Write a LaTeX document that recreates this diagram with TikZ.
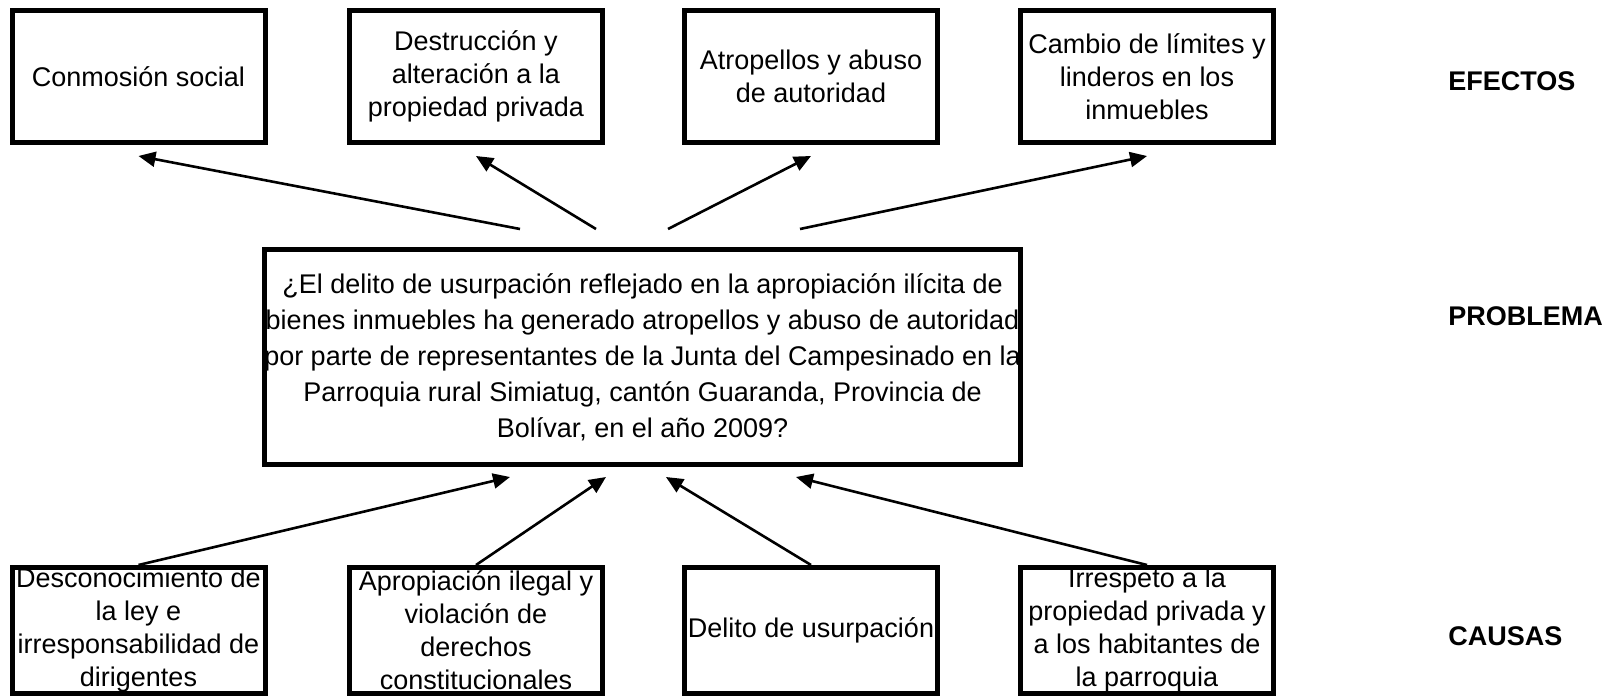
\documentclass[tikz,border=0pt]{standalone}
\usepackage{fontspec}
\setmainfont{Liberation Sans}
\usetikzlibrary{arrows.meta}
\usetikzlibrary{calc}
\usetikzlibrary{positioning}

\tikzset{
  caja/.style={draw, line width=2.5pt, inner sep=0pt, minimum width=126.5pt,
    align=center, font=\fontsize{13.5}{16.5}\selectfont},
  efecto/.style={caja, minimum height=66pt},
  causa/.style={caja, minimum height=63pt},
  problema/.style={caja, minimum width=377pt, minimum height=107.5pt,
    font=\fontsize{13.5}{18}\selectfont},
  etiqueta/.style={anchor=west, inner sep=0pt, font=\fontsize{13.5}{16}\selectfont\bfseries},
  flecha/.style={line width=1.3pt, -{Triangle[length=8.5pt,width=7.5pt]}}
}

\begin{document}
\begin{tikzpicture}[x=0.5pt, y=-0.5pt]
\useasboundingbox (0,0) rectangle (1610,696);

%Efectos
\node[efecto] (e1) at (138.5, 76.5) {Conmosión social};
\node[efecto] (e2) at (476, 76.5) {Destrucción y\\alteración a la\\propiedad privada};
\node[efecto] (e3) at (811, 76.5) {Atropellos y abuso\\de autoridad};
\node[efecto] (e4) at (1147, 76.5) {Cambio de límites y\\linderos en los\\inmuebles};

%Problema
\node[problema] (prob) at (642.5, 357) {¿El delito de usurpación reflejado en la apropiación ilícita de\\
  bienes inmuebles ha generado atropellos y abuso de autoridad\\
  por parte de representantes de la Junta del Campesinado en la\\
  Parroquia rural Simiatug, cantón Guaranda, Provincia de\\
  Bolívar, en el año 2009?};

%Causas
\node[causa] (c1) at (138.5, 630.5) {Desconocimiento de\\la ley e\\irresponsabilidad de\\dirigentes};
\node[causa] (c2) at (476, 630.5) {Apropiación ilegal y\\violación de\\derechos\\constitucionales};
\node[causa] (c3) at (811, 630.5) {Delito de usurpación};
\node[causa] (c4) at (1147, 630.5) {Irrespeto a la\\propiedad privada y\\a los habitantes de\\la parroquia};

%Etiquetas
\node[etiqueta] (lef) at (1448, 81) {EFECTOS};
\node[etiqueta] (lpr) at (1448, 316) {PROBLEMA};
\node[etiqueta] (lca) at (1448, 636) {CAUSAS};

%Flechas
\foreach \i/\dx in {1/-61.25, 2/-23.25, 3/12.75, 4/78.75}
  \draw[flecha] ([xshift=\dx pt, yshift=9pt]prob.north) -- ([yshift=-5.5pt]e\i.south);
\foreach \i/\dx in {1/-66.25, 2/-18.25, 3/11.75, 4/76.75}
  \draw[flecha] (c\i.north) -- ([xshift=\dx pt, yshift=-5pt]prob.south);
\end{tikzpicture}
\end{document}
